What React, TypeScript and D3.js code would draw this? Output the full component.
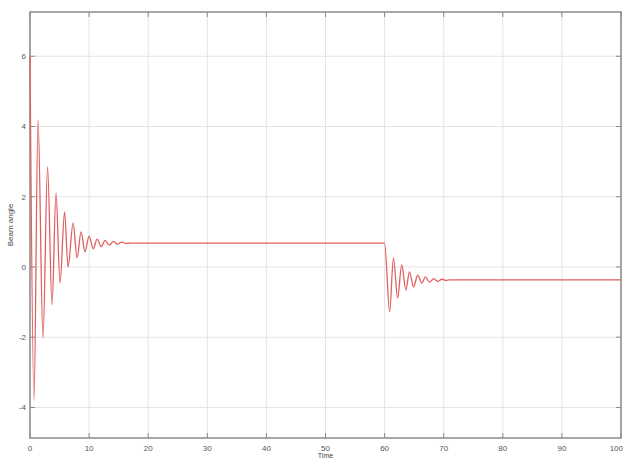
import React from "react";
import * as d3 from "d3";

// Axis ticks
const timeTicks = [0, 10, 20, 30, 40, 50, 60, 70, 80, 90, 100];
const angleTicks = [6, 4, 2, 0, -2, -4];

// Release from the initial angle: successive peaks and troughs, then settling
const settleTimes = [0, 0.68, 1.36, 2.2, 2.97, 3.73, 4.4, 5.08, 5.85, 6.44, 7.29, 7.97, 8.64, 9.3, 10.0, 10.7, 11.36, 12.05, 12.7, 13.4, 14.1, 14.8, 15.5, 16.2, 17.0, 60.0];
const settleAngles = [6.0, -3.79, 4.19, -2.02, 2.85, -1.08, 2.11, -0.46, 1.57, 0.0, 1.25, 0.26, 1.0, 0.43, 0.88, 0.52, 0.79, 0.58, 0.76, 0.62, 0.73, 0.65, 0.71, 0.67, 0.68, 0.68];

// Response to the disturbance at t = 60
const stepTimes = [60.85, 61.5, 62.2, 62.9, 63.6, 64.2, 64.9, 65.6, 66.3, 66.9, 67.6, 68.3, 69.0, 69.7, 70.4, 71.0, 100.0];
const stepAngles = [-1.28, 0.26, -0.88, 0.06, -0.66, -0.14, -0.57, -0.23, -0.46, -0.28, -0.43, -0.33, -0.41, -0.35, -0.38, -0.37, -0.37];

const W = 625;
const H = 459;
const left = 30;
const right = 621;
const top = 12;
const bottom = 438;

export default function App() {
  const x = d3.scaleLinear().domain([0, 100]).range([left, right]);
  const y = d3.scaleLinear().domain([-4.87, 7.26]).range([bottom, top]);

  const points: [number, number][] = [
    ...settleTimes.map((t, i) => [t, settleAngles[i]] as [number, number]),
    ...stepTimes.map((t, i) => [t, stepAngles[i]] as [number, number]),
  ];
  const line = d3
    .line<[number, number]>()
    .x((d) => x(d[0]))
    .y((d) => y(d[1]))
    .curve(d3.curveMonotoneX);

  const font = "'Liberation Sans', Arial, sans-serif";
  const axisColor = "#8a8a8a";
  const gridColor = "#e4e4e4";
  const last = timeTicks[timeTicks.length - 1];

  return (
    <div style={{ position: "fixed", left: 0, top: 0, width: W, height: H, background: "#fff" }}>
      <svg width={W} height={H} viewBox={`0 0 ${W} ${H}`} style={{ display: "block" }}>
        <rect x={0} y={0} width={W} height={H} fill="#fff" />
        {/* grid */}
        {timeTicks.map((t) => (
          <line key={`gx${t}`} x1={x(t)} x2={x(t)} y1={top} y2={bottom} stroke={gridColor} strokeWidth={1} />
        ))}
        {angleTicks.map((v) => (
          <line key={`gy${v}`} x1={left} x2={right} y1={y(v)} y2={y(v)} stroke={gridColor} strokeWidth={1} />
        ))}
        {/* frame */}
        <rect x={left} y={top} width={right - left} height={bottom - top} fill="none" stroke={axisColor} strokeWidth={1.5} />
        {/* ticks on all four sides, pointing inward */}
        {timeTicks.map((t) => (
          <g key={`tx${t}`}>
            <line x1={x(t)} x2={x(t)} y1={top} y2={top + 5} stroke={axisColor} />
            <line x1={x(t)} x2={x(t)} y1={bottom} y2={bottom - 5} stroke={axisColor} />
            <text
              x={t === last ? W - 2 : x(t)}
              y={451}
              fontSize={8}
              fill="#555"
              textAnchor={t === last ? "end" : "middle"}
              fontFamily={font}
            >
              {t}
            </text>
          </g>
        ))}
        {angleTicks.map((v) => (
          <g key={`ty${v}`}>
            <line x1={left} x2={left + 5} y1={y(v)} y2={y(v)} stroke={axisColor} />
            <line x1={right} x2={right - 5} y1={y(v)} y2={y(v)} stroke={axisColor} />
            <text x={left - 4} y={y(v) + 3} fontSize={8} fill="#555" textAnchor="end" fontFamily={font}>
              {v}
            </text>
          </g>
        ))}
        {/* response curve */}
        <path d={line(points) ?? ""} fill="none" stroke="#e06060" strokeWidth={1.3} />
        {/* axis titles */}
        <text
          transform={`translate(13, ${(top + bottom) / 2}) rotate(-90)`}
          fontSize={8}
          fill="#444"
          textAnchor="middle"
          fontFamily={font}
        >
          Beam angle
        </text>
        <text x={(left + right) / 2} y={458} fontSize={7} fill="#444" textAnchor="middle" fontFamily={font}>
          Time
        </text>
      </svg>
    </div>
  );
}
